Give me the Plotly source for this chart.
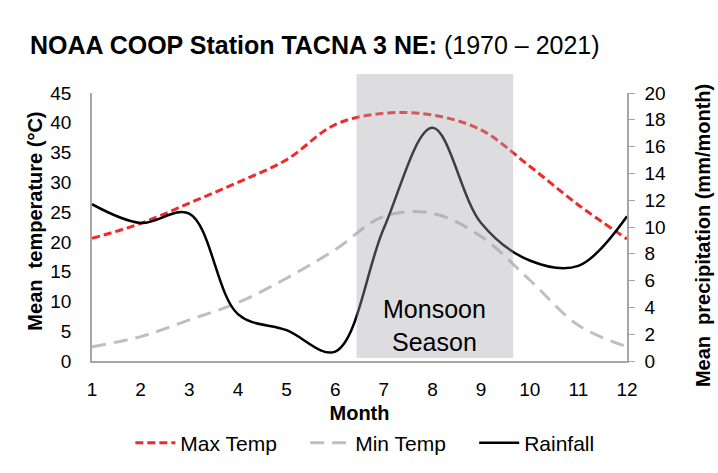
import plotly.graph_objects as go

months = [1, 2, 3, 4, 5, 6, 7, 8, 9, 10, 11, 12]
max_temp = [20.6, 23.1, 26.5, 30.0, 33.8, 39.7, 41.6, 41.3, 38.8, 32.7, 26.2, 20.5]
min_temp = [2.4, 4.1, 6.9, 9.8, 13.9, 18.7, 24.3, 24.8, 20.9, 13.6, 6.0, 2.4]
rainfall = [11.7, 10.3, 11.0, 3.5, 2.3, 0.7, 9.9, 17.4, 10.3, 7.5, 7.1, 10.8]

temp_ticks = [0, 5, 10, 15, 20, 25, 30, 35, 40, 45]
precip_ticks = [0, 2, 4, 6, 8, 10, 12, 14, 16, 18, 20]
monsoon_start, monsoon_end = 6.44, 9.66

FONT = "Liberation Sans, Arial, sans-serif"
PAD = "\u00a0" * 4

fig = go.Figure()
fig.add_trace(go.Scatter(
    x=months, y=max_temp, name="Max Temp" + PAD, mode="lines",
    line=dict(color="#EE2A2A", width=3, dash="8px,4px", shape="spline", smoothing=1.0),
))
fig.add_trace(go.Scatter(
    x=months, y=min_temp, name="Min Temp" + PAD, mode="lines",
    line=dict(color="#BFBFBF", width=3, dash="14px,8px", shape="spline", smoothing=1.0),
))
fig.add_trace(go.Scatter(
    x=months, y=rainfall, name="Rainfall", mode="lines", yaxis="y2",
    line=dict(color="#000000", width=2.5, shape="spline", smoothing=1.0),
))

fig.add_shape(
    type="rect", xref="x", yref="paper",
    x0=monsoon_start, x1=monsoon_end, y0=0.011, y1=1.071,
    fillcolor="rgba(165,166,172,0.38)", line=dict(width=0), layer="above",
)

fig.add_annotation(
    x=(monsoon_start + monsoon_end) / 2, y=0.132, xref="x", yref="paper",
    xanchor="center", yanchor="middle",
    text="Monsoon<br>Season", showarrow=False,
    font=dict(family=FONT, size=25, color="#000000"), align="center",
)

fig.add_annotation(
    x=(35 - 92) / 535, y=0.52, xref="paper", yref="paper",
    text="<b>Mean\u00a0 temperature (°C)</b>", showarrow=False, textangle=-90,
    xanchor="center", yanchor="middle",
    font=dict(family=FONT, size=20, color="#000000"),
)
fig.add_annotation(
    x=(703 - 92) / 535, y=0.466, xref="paper", yref="paper",
    text="<b>Mean\u00a0 precipitation (mm/month)</b>", showarrow=False, textangle=-90,
    xanchor="center", yanchor="middle",
    font=dict(family=FONT, size=20, color="#000000"),
)

fig.update_layout(
    width=718, height=473,
    margin=dict(l=92, r=91, t=93, b=112, autoexpand=False),
    paper_bgcolor="white", plot_bgcolor="white",
    font=dict(family=FONT, size=19, color="#000000"),
    title=dict(
        text="<b>NOAA COOP Station TACNA 3 NE:</b> (1970 – 2021)",
        x=30 / 718, xanchor="left", xref="container",
        y=1 - 45 / 473, yanchor="middle", yref="container",
        font=dict(family=FONT, size=25, color="#000000"),
    ),
    xaxis=dict(
        range=[1, 12], tickvals=months, ticktext=[str(m) for m in months],
        showgrid=False, zeroline=False, showline=True, linecolor="#A6A6A6", linewidth=1.5,
        ticks="", ticklabelstandoff=10,
        title=dict(text="<b>Month</b>", standoff=7, font=dict(size=20)),
    ),
    yaxis=dict(
        range=[0, 45], tickvals=temp_ticks,
        showgrid=False, zeroline=False, showline=True, linecolor="#A6A6A6", linewidth=1.5,
        ticks="", ticklabelstandoff=15,
    ),
    yaxis2=dict(
        range=[0, 20], tickvals=precip_ticks, overlaying="y", side="right",
        showgrid=False, zeroline=False, showline=True, linecolor="#A6A6A6", linewidth=1.5,
        ticks="outside", ticklen=6, tickcolor="#A6A6A6", ticklabelstandoff=6,
    ),
    legend=dict(
        orientation="h", x=0.51, xanchor="center", y=-0.306, yanchor="middle",
        font=dict(size=21), itemwidth=40, traceorder="normal",
    ),
    showlegend=True,
)

fig.write_html("out.html", post_script="document.body.style.margin='0';",
               config={"displayModeBar": False})
